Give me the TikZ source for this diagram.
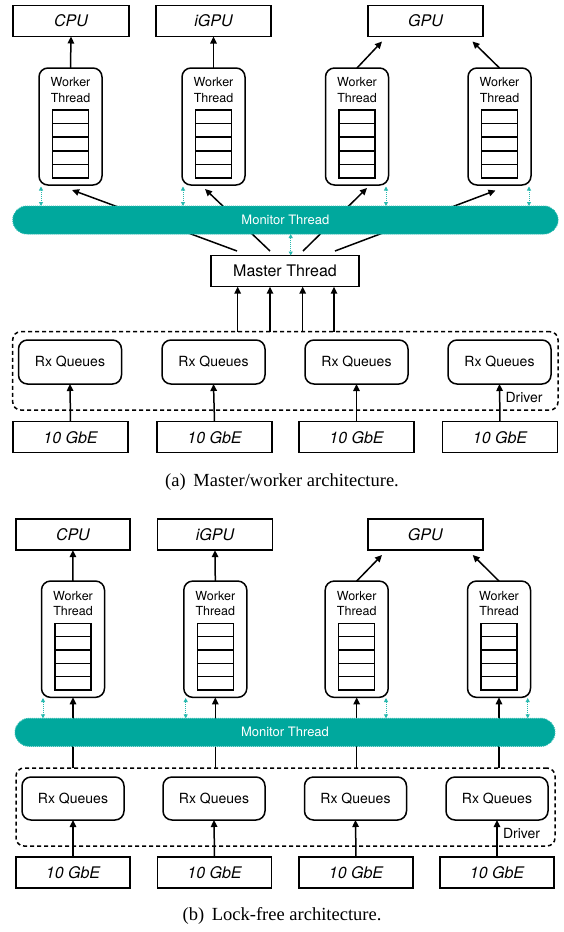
\documentclass[tikz,border=0pt]{standalone}
\usepackage{fontspec}
\setmainfont{Liberation Serif}
\setsansfont{TeX Gyre Heros}
\usetikzlibrary{arrows.meta,calc}
\definecolor{monfill}{RGB}{0,168,157}
\definecolor{monline}{RGB}{40,185,175}
\pgfdeclarelayer{bg}
\pgfsetlayers{bg,main}
\begin{document}
\begin{tikzpicture}[x=1pt,y=-1pt,
  every node/.style={inner sep=0pt,outer sep=0pt},
  plainbox/.style={draw,line width=1.5pt,minimum width=115pt,minimum height=31pt,font=\sffamily\itshape\fontsize{16}{19}\selectfont},
  workerbox/.style={draw,line width=1.5pt,rounded corners=9pt,minimum width=63pt,minimum height=117pt},
  wtext/.style={font=\sffamily\fontsize{12.5}{15.5}\selectfont,align=center},
  rxbox/.style={draw,line width=1.5pt,rounded corners=9pt,minimum width=103pt,minimum height=44pt,font=\sffamily\fontsize{14}{16}\selectfont},
  monbox/.style={fill=monfill,draw=monline,dash pattern=on 1pt off 1pt,line width=1pt,rounded corners=14pt,minimum height=28pt,text=white,font=\sffamily\fontsize{13}{15}\selectfont},
  masterbox/.style={draw,line width=1.5pt,minimum width=148pt,minimum height=31pt,font=\sffamily\fontsize{16}{19}\selectfont},
  driverbox/.style={draw,dash pattern=on 4pt off 3pt,line width=1.5pt,rounded corners=8pt},
  drvtext/.style={anchor=west,font=\sffamily\fontsize{14}{16}\selectfont},
  flow/.style={line width=1.5pt,-{Triangle[length=7pt,width=6.5pt]}},
  monarrow/.style={draw=monline,line width=0.9pt,dash pattern=on 1pt off 1pt,{Triangle[length=4pt,width=4pt]}-{Triangle[length=4pt,width=4pt]}},
  cell/.style={draw,line width=1.5pt},
  captext/.style={font=\rmfamily\fontsize{18.5}{22}\selectfont}
]
\useasboundingbox (0,0) rectangle (564,932);

% ================= Panel (a) =================
\node[plainbox,minimum width=116pt] (cpuA) at (71,21) {CPU};
\node[plainbox] (igpuA) at (213.5,21) {iGPU};
\node[plainbox] (gpuA) at (425.5,21) {GPU};

\foreach \i/\x in {1/70.5,2/213.5,3/357,4/499.5}{
  \node[workerbox] (wA\i) at (\x,126.5) {};
  \node[wtext] (wtA\i) at (\x,90) {Worker\\Thread};
  \foreach \k in {0,...,4}{
    \draw[cell] (\x-18,110+13.6*\k) rectangle (\x+18,110+13.6*\k+13.6);
  }
}

\node[monbox,minimum width=545.3pt] (monA) at (285.4,220) {Monitor Thread};
\node[masterbox] (masterA) at (285,271.2) {Master Thread};
\node[driverbox,minimum width=545.3pt,minimum height=78.3pt] (drvA) at (285.35,370.85) {};

\foreach \i/\x in {1/70,2/213.5,3/356.5,4/499.5}{
  \node[rxbox] (rxA\i) at (\x,362) {Rx Queues};
}
\foreach \i/\x in {1/70.5,2/214.5,3/356.5,4/500}{
  \node[plainbox] (gbeA\i) at (\x,437.2) {10 GbE};
  \draw[flow] (gbeA\i.north) -- (rxA\i.south);
}
\node[drvtext] (drvlA) at (505.5,397.5) {Driver};

% worker -> processors
\draw[flow] (wA1.north) -- (cpuA.south);
\draw[flow] (wA2.north) -- (igpuA.south);
\coordinate (gA3) at (382,41.5);
\coordinate (gA4) at (472.5,41.5);
\draw[flow] (wA3.north) -- (gA3);
\draw[flow] (wA4.north) -- (gA4);

% master -> workers (behind monitor)
\foreach \i/\sx/\tx/\ty in {1/237/72/190,2/270/205/189,3/303/367/188,4/335/495.5/190.5}{
  \coordinate (msA\i) at (\sx,251);
  \coordinate (mtA\i) at (\tx,\ty);
}
\begin{pgfonlayer}{bg}
\foreach \i in {1,...,4}{
  \draw[flow] (msA\i) -- (mtA\i);
}
\end{pgfonlayer}

% queues -> master
\foreach \i/\x in {1/237.7,2/270,3/302.7,4/334}{
  \coordinate (miA\i) at (\x,286.7);
  \draw[flow] (miA\i |- drvA.north) -- (miA\i);
}

% monitor links
\foreach \i/\x in {1/41,2/183,3/386,4/529}{
  \coordinate (maA\i) at (\x,186.5);
  \draw[monarrow] (maA\i) -- (maA\i |- monA.north);
}
\coordinate (mmA) at (290.7,255.5);
\draw[monarrow] (mmA |- monA.south) -- (mmA);

\node[captext] (capA) at (282,482) {(a)\, Master/worker architecture.};

% ================= Panel (b) =================
\node[plainbox,minimum width=114.3pt] (cpuB) at (72.9,534.7) {CPU};
\node[plainbox] (igpuB) at (215,534.7) {iGPU};
\node[plainbox] (gpuB) at (425.3,534.7) {GPU};

\foreach \i/\x in {1/73,2/215.3,3/356.7,4/499}{
  \node[workerbox,minimum height=116.3pt] (wB\i) at (\x,639.2) {};
  \node[wtext] (wtB\i) at (\x,603.3) {Worker\\Thread};
  \foreach \k in {0,...,4}{
    \draw[cell] (\x-18,623.3+13.35*\k) rectangle (\x+18,623.3+13.35*\k+13.35);
  }
}

\node[monbox,minimum width=540pt] (monB) at (285,732.3) {Monitor Thread};
\node[driverbox,minimum width=539pt,minimum height=78pt] (drvB) at (285.5,807) {};

\foreach \i/\x in {1/73,2/214,3/355.5,4/497}{
  \node[rxbox,minimum width=102pt,minimum height=43pt] (rxB\i) at (\x,798.5) {Rx Queues};
}
\foreach \i/\x in {1/73,2/214.5,3/356,4/497}{
  \node[plainbox,minimum width=114pt] (gbeB\i) at (\x,872.5) {10 GbE};
  \draw[flow] (gbeB\i.north) -- (rxB\i.south);
}
\node[drvtext] (drvlB) at (503,833) {Driver};

\draw[flow] (wB1.north) -- (cpuB.south);
\draw[flow] (wB2.north) -- (igpuB.south);
\coordinate (gB3) at (382,555);
\coordinate (gB4) at (472.7,555);
\draw[flow] (wB3.north) -- (gB3);
\draw[flow] (wB4.north) -- (gB4);

% queues -> workers (behind monitor)
\begin{pgfonlayer}{bg}
\foreach \i in {1,...,4}{
  \draw[flow] (wB\i.south |- drvB.north) -- (wB\i.south);
}
\end{pgfonlayer}

\foreach \i/\x in {1/43,2/185.7,3/386,4/527.7}{
  \coordinate (maB\i) at (\x,698);
  \draw[monarrow] (maB\i) -- (maB\i |- monB.north);
}

\node[captext] (capB) at (282,916) {(b)\, Lock-free architecture.};
\end{tikzpicture}
\end{document}
